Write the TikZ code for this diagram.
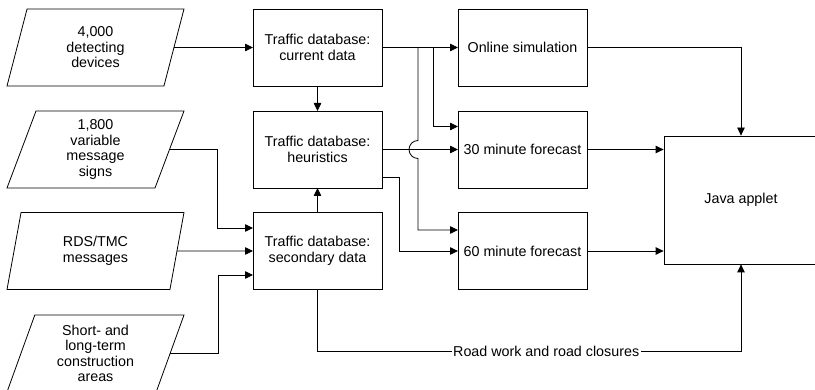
\documentclass[tikz,border=0pt]{standalone}
\usepackage{fontspec}
\setmainfont{Liberation Sans}
\usetikzlibrary{arrows.meta,shapes.geometric}

\begin{document}
\begin{tikzpicture}[x=1pt,y=-1pt,line width=0.8pt,>={Triangle[length=8pt,width=7.5pt]},
    font=\fontsize{14.3}{15.5}\selectfont,
    box/.style={draw,minimum width=129pt,minimum height=77pt,inner sep=0pt,outer sep=0pt,align=center},
    data/.style={draw,trapezium,trapezium left angle=64,trapezium right angle=116,
      trapezium stretches body,minimum width=177pt,minimum height=77pt,inner sep=0pt,outer sep=0pt,align=center}]
  \useasboundingbox (0,0) rectangle (815,390);
  % input sources
  \node[data] (dev) at (95.5,47.5) {4,000\\detecting\\devices};
  \node[data] (vms) at (95.5,149.5) {1,800\\variable\\message\\signs};
  \node[data] (rds) at (95.5,251) {RDS/TMC\\messages};
  \node[data] (con) at (95.5,353.5) {Short- and\\long-term\\construction\\areas};
  % databases
  \node[box] (cur) at (317.5,47.5) {Traffic database:\\current data};
  \node[box] (heu) at (317.5,149.5) {Traffic database:\\heuristics};
  \node[box] (sec) at (317.5,251) {Traffic database:\\secondary data};
  % outputs
  \node[box] (sim) at (522.5,47.5) {Online simulation};
  \node[box] (f30) at (522.5,149.5) {30 minute forecast};
  \node[box] (f60) at (522.5,251) {60 minute forecast};
  \node[draw,minimum width=154pt,minimum height=128pt] (java) at (741,200) {Java applet};
  % data flow
  \draw[->] (dev.east) -- (cur.west);
  \draw[->] (vms.east) -- ++(48,0) |- ([yshift=23pt]sec.west);
  \draw[->] (rds.east) -- (sec.west);
  \draw[->] (con.east) -- ++(48,0) |- ([yshift=-24pt]sec.west);
  \draw[->] (cur.south) -- (heu.north);
  \draw[->] (sec.north) -- (heu.south);
  \draw[->] (cur.east) -- (sim.west);
  \draw[->] ([xshift=51pt]cur.east) |- ([yshift=23pt]f30.west);
  \draw[->] ([xshift=36pt]cur.east) -- ++(0,93) arc(270:90:9) |- ([yshift=21pt]f60.west);
  \draw[->] (heu.east) -- (f30.west);
  \draw[->] ([yshift=-28pt]heu.east) -- ++(17,0) |- (f60.west);
  \draw[->] (sim.east) -| (java.north);
  \draw[->] (f30.east) -- (f30.east -| java.west);
  \draw[->] (f60.east) -- (f60.east -| java.west);
  \draw[->] (sec.south) -- ++(0,62) -| node[pos=0.27,fill=white,inner sep=1.5pt] {Road work and road closures} (java.south);
\end{tikzpicture}
\end{document}
